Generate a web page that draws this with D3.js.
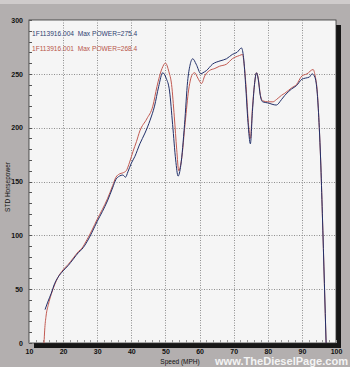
<!DOCTYPE html>
<html>
<head>
<meta charset="utf-8">
<script src="https://cdn.jsdelivr.net/npm/d3@7"></script>
<style>
  html, body { margin: 0; padding: 0; background: #b3afaf; }
  svg { display: block; font-family: Arial, "Liberation Sans", sans-serif; }
</style>
</head>
<body>
<div id="chart"></div>
<script>
// run 004 (blue)
const mph004 = [14.7, 15.5, 16.5, 17.5, 18.5, 20, 21.5, 23, 24.5, 25.5, 27, 28.5, 30, 31.5, 33, 34.5, 35.5, 36.5, 37.5, 38.3, 39, 40, 41, 42.5, 44, 45.5, 46.8, 48, 49.2, 50.2, 51.2, 52.1, 53, 53.7, 54.5, 55.6, 56.5, 57.2, 58, 59, 60.4, 61, 62, 63.8, 66, 67.9, 69.6, 71, 72.3, 72.9, 73.5, 74.2, 74.9, 75.5, 76.1, 76.7, 77.2, 77.8, 78.5, 80, 82.5, 84, 85, 87, 88.4, 90, 91, 92.2, 93, 93.8, 94.5, 95.1, 95.5, 96, 96.6, 97.1];
const hp004  = [31, 38, 46, 55, 61, 67, 72, 78, 84, 87, 94, 103, 113, 122, 132, 144, 152, 155, 156, 154, 159, 167, 173, 185, 195, 207, 220, 238, 251, 246, 234, 203, 170, 155, 165, 203, 243, 258, 264, 259, 250, 251, 253, 259, 262, 264, 268, 270, 274, 265, 240, 205, 185, 215, 240, 251, 245, 230, 224, 223, 221, 226, 230, 236, 239, 245, 246, 247, 250, 247, 232, 200, 170, 120, 55, 0];

// run 001 (red)
const mph001 = [14.4, 14.6, 15, 15.7, 16.5, 17.5, 18.5, 20, 21.5, 23, 24.5, 25.5, 27, 28.5, 30, 31.5, 33, 34.5, 35.5, 36.5, 37.5, 38.5, 39.5, 40.5, 41.5, 42.5, 44.5, 46.3, 47.5, 49, 50, 51, 51.8, 52.6, 53.3, 53.9, 54.7, 55.8, 56.8, 58, 58.6, 59.5, 60.6, 61.5, 62.9, 64.5, 65.8, 67.9, 69.6, 71.7, 72.6, 73.1, 73.7, 74.3, 74.9, 75.5, 76.1, 76.7, 77.2, 77.8, 78.5, 80, 81.5, 82.5, 84, 85, 87, 88.4, 90, 91.5, 93.3, 93.9, 94.5, 95.1, 95.5, 96, 96.6, 97.1];
const hp001  = [0, 12, 25, 36, 45, 54, 61, 68, 73, 79, 85, 88, 96, 105, 115, 124, 134, 146, 154, 157, 158, 160, 168, 178, 187, 197, 208, 220, 238, 255, 260, 252, 240, 210, 180, 160, 170, 205, 235, 250, 251, 246, 241, 248, 253, 255, 257, 259, 264, 267, 268, 258, 235, 205, 190, 218, 240, 251, 246, 231, 225, 224, 224, 226, 230, 232, 237, 240, 248, 250, 254, 248, 234, 200, 170, 120, 55, 0];

const xTicks = [10, 20, 30, 40, 50, 60, 70, 80, 90, 100];
const yTicks = [0, 50, 100, 150, 200, 250, 300];
const legendLabels = ["1F113916.004  Max POWER=275.4", "1F113916.001  Max POWER=268.4"];

const W = 350, H = 367;
const pLeft = 29, pRight = 336, pTop = 20, pBottom = 343;

const svg = d3.select("#chart").append("svg")
  .attr("width", W).attr("height", H);

svg.append("rect").attr("width", W).attr("height", H).attr("fill", "#b3afaf");
svg.append("rect").attr("width", W).attr("height", 4).attr("fill", "#cfcbcb");

const x = d3.scaleLinear().domain([10, 100]).range([pLeft, pRight]);
const y = d3.scaleLinear().domain([0, 300]).range([pBottom, pTop]);

// drop shadow + plot area
svg.append("rect")
  .attr("x", pLeft + 5).attr("y", pTop + 5)
  .attr("width", pRight - pLeft).attr("height", pBottom - pTop)
  .attr("fill", "#161616");
svg.append("rect")
  .attr("x", pLeft).attr("y", pTop)
  .attr("width", pRight - pLeft).attr("height", pBottom - pTop)
  .attr("fill", "#f5f5f5")
  .attr("stroke", "#333").attr("stroke-width", 0.8);

// grid (dotted)
const grid = svg.append("g").attr("class", "grid");
grid.selectAll(".gx")
  .data(xTicks.slice(1, -1))
  .enter().append("line")
  .attr("class", "gx")
  .attr("x1", d => Math.round(x(d)) + 0.5).attr("x2", d => Math.round(x(d)) + 0.5)
  .attr("y1", pTop).attr("y2", pBottom)
  .attr("stroke", "#8e8e8e").attr("stroke-width", 1)
  .attr("stroke-dasharray", "1,1.5");
grid.selectAll(".gy")
  .data(yTicks.slice(1, -1))
  .enter().append("line")
  .attr("class", "gy")
  .attr("x1", pLeft).attr("x2", pRight)
  .attr("y1", d => Math.round(y(d)) + 0.5).attr("y2", d => Math.round(y(d)) + 0.5)
  .attr("stroke", "#8e8e8e").attr("stroke-width", 1)
  .attr("stroke-dasharray", "1,1.5");

// minor ticks
grid.selectAll(".my")
  .data(y.ticks(30))
  .enter().append("line")
  .attr("class", "my")
  .attr("x1", pLeft).attr("x2", pLeft + 3)
  .attr("y1", d => Math.round(y(d)) + 0.5).attr("y2", d => Math.round(y(d)) + 0.5)
  .attr("stroke", "#555");
grid.selectAll(".mx")
  .data(x.ticks(45))
  .enter().append("line")
  .attr("class", "mx")
  .attr("x1", d => Math.round(x(d)) + 0.5).attr("x2", d => Math.round(x(d)) + 0.5)
  .attr("y1", pBottom - 3).attr("y2", pBottom)
  .attr("stroke", "#999");

// tick labels
const yAxis = svg.append("g")
  .attr("transform", `translate(${pLeft - 6},0)`)
  .call(d3.axisLeft(y).tickValues(yTicks).tickSize(0).tickPadding(0));
yAxis.select(".domain").remove();
yAxis.selectAll("text").attr("font-size", 7).attr("fill", "#111")
  .attr("font-family", "Arial, 'Liberation Sans', sans-serif").attr("font-weight", "bold");

const xAxis = svg.append("g")
  .attr("transform", `translate(0,${pBottom + 6})`)
  .call(d3.axisBottom(x).tickValues(xTicks).tickSize(0).tickPadding(0));
xAxis.select(".domain").remove();
xAxis.selectAll("text").attr("font-size", 7).attr("fill", "#111")
  .attr("font-family", "Arial, 'Liberation Sans', sans-serif").attr("font-weight", "bold");

// axis titles
svg.append("text")
  .attr("transform", "translate(10,187) rotate(-90)")
  .attr("text-anchor", "middle")
  .attr("font-size", 6.5).attr("fill", "#111")
  .text("STD Horsepower");
svg.append("text")
  .attr("x", 180).attr("y", 364)
  .attr("text-anchor", "middle")
  .attr("font-size", 6.5).attr("fill", "#111")
  .text("Speed (MPH)");

// lines
const line = d3.line()
  .x(d => x(d[0])).y(d => y(d[1]))
  .curve(d3.curveMonotoneX);

const red = mph001.map((m, i) => [m, hp001[i]]);
const blue = mph004.map((m, i) => [m, hp004[i]]);

svg.append("path").datum(red)
  .attr("d", line).attr("fill", "none")
  .attr("stroke", "#c25a52").attr("stroke-width", 1);
svg.append("path").datum(blue)
  .attr("d", line).attr("fill", "none")
  .attr("stroke", "#22306a").attr("stroke-width", 1);

// legend
const legendColors = ["#2e4170", "#b8564a"];
svg.selectAll(".legend")
  .data(legendLabels)
  .enter().append("text")
  .attr("class", "legend")
  .attr("x", 32)
  .attr("y", (d, i) => 36 + i * 15)
  .attr("font-size", 6.6)
  .attr("fill", (d, i) => legendColors[i])
  .attr("xml:space", "preserve")
  .style("white-space", "pre")
  .text(d => d);

// watermark
svg.append("text")
  .attr("x", 215).attr("y", 365)
  .attr("font-size", 10.5).attr("font-weight", "bold")
  .attr("fill", "#f4f4f4")
  .attr("textLength", 133).attr("lengthAdjust", "spacingAndGlyphs")
  .text("www.TheDieselPage.com");
</script>
</body>
</html>
